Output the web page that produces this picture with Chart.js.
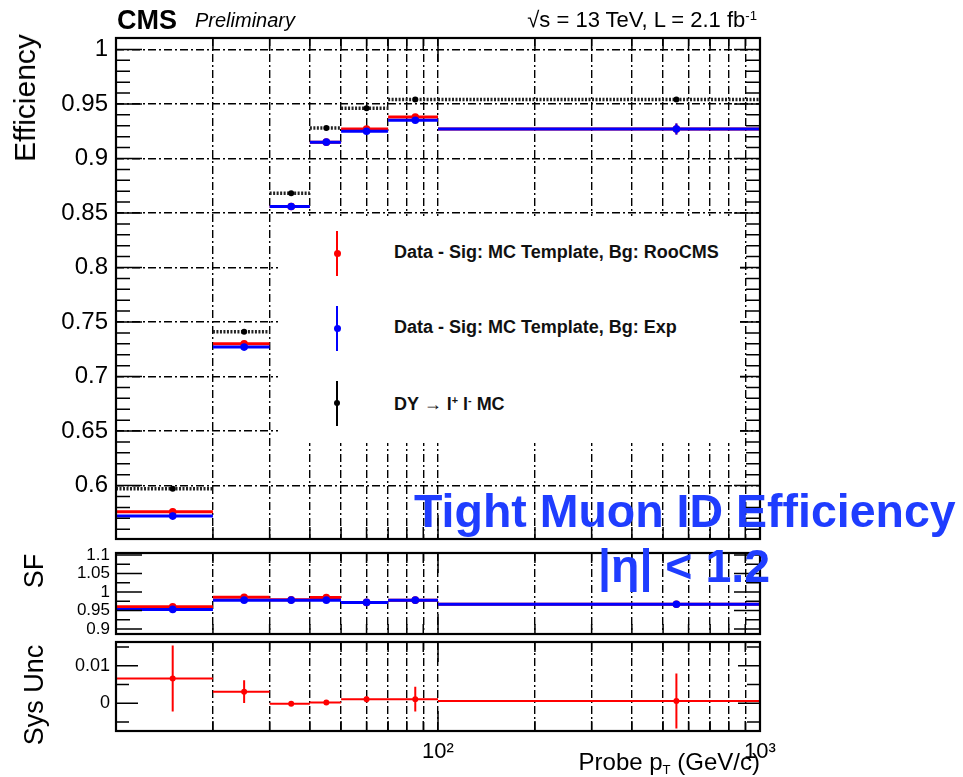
<!DOCTYPE html>
<html>
<head>
<meta charset="utf-8">
<script src="https://cdn.jsdelivr.net/npm/chart.js@4.4.0/dist/chart.umd.min.js"></script>
<style>
  body { margin: 0; background: #fff; }
  #wrap { position: relative; width: 963px; height: 777px; overflow: hidden; font-family: "Liberation Sans", Arial, sans-serif; }
  canvas { position: absolute; left: 0; top: 0; }
  .txt { position: absolute; white-space: nowrap; line-height: 1; color: #000; }
  .rot { position: absolute; white-space: nowrap; line-height: 1; transform: translate(-50%, -50%) rotate(-90deg); }
  .bar { position: absolute; width: 2px; }
  .dot { position: absolute; width: 7px; height: 7px; border-radius: 50%; }
  sup { font-size: 60%; vertical-align: 0; position: relative; top: -0.55em; }
  sub { font-size: 55%; vertical-align: 0; position: relative; top: 0.3em; }
</style>
</head>
<body>
<div id="wrap">
  <canvas id="eff" width="963" height="777"></canvas>
  <canvas id="sf" width="963" height="777"></canvas>
  <canvas id="sys" width="963" height="777"></canvas>

  <div class="txt" style="left:117px; top:7px; font-size:27px; font-weight:bold;">CMS</div>
  <div class="txt" style="left:195px; top:10px; font-size:20px; font-style:italic;">Preliminary</div>
  <div class="txt" style="right:206px; top:9px; font-size:22px;">√s = 13 TeV, L = 2.1 fb<sup>-1</sup></div>

  <div class="rot" style="left:25px; top:98px; font-size:30px;">Efficiency</div>
  <div class="rot" style="left:34px; top:571px; font-size:27px;">SF</div>
  <div class="rot" style="left:34px; top:695px; font-size:27px;">Sys Unc</div>

  <div id="legend" style="position:absolute; left:278px; top:216px; width:462px; height:227px; background:#fff;"></div>
  <div class="bar" style="left:336px; top:231px; height:45px; background:#ff0000;"></div>
  <div class="dot" style="left:333.5px; top:249.5px; background:#ff0000;"></div>
  <div class="txt" style="left:394px; top:243px; font-size:18px; font-weight:bold; color:#111;">Data - Sig: MC Template, Bg: RooCMS</div>
  <div class="bar" style="left:336px; top:306px; height:45px; background:#0000ff;"></div>
  <div class="dot" style="left:333.5px; top:324.5px; background:#0000ff;"></div>
  <div class="txt" style="left:394px; top:318px; font-size:18px; font-weight:bold; color:#111;">Data - Sig: MC Template, Bg: Exp</div>
  <div class="bar" style="left:336px; top:381px; height:45px; background:#000;"></div>
  <div class="dot" style="left:334px; top:400px; width:6px; height:6px; background:#000;"></div>
  <div class="txt" style="left:394px; top:395px; font-size:18px; font-weight:bold; color:#111;">DY → l<sup>+</sup> l<sup>-</sup> MC</div>

  <div class="txt" style="left:414px; top:488px; font-size:46.5px; font-weight:bold; color:#1f3dff;">Tight Muon ID Efficiency</div>
  <div class="txt" style="left:598px; top:543px; font-size:46.5px; font-weight:bold; color:#1f3dff;">|η| &lt; 1.2</div>

  <div class="txt" style="right:203px; top:750px; font-size:24px;">Probe p<sub>T</sub> (GeV/c)</div>
</div>
<script>
// pT bins (GeV/c) and bin centres
const binEdges = [10, 20, 30, 40, 50, 70, 100, 1000];
const binCenters = [15, 25, 35, 45, 60, 85, 550];

// efficiency
const effRooCMS = [0.576, 0.730, 0.856, 0.915, 0.927, 0.938, 0.927];
const effRooCMSErr = [0.003, 0.002, 0.0015, 0.0015, 0.0015, 0.002, 0.005];
const effExp = [0.572, 0.727, 0.856, 0.915, 0.925, 0.935, 0.927];
const effExpErr = [0.003, 0.002, 0.0015, 0.0015, 0.0015, 0.002, 0.005];
const effDY = [0.597, 0.741, 0.868, 0.928, 0.946, 0.954, 0.954];

// scale factors
const sfRooCMS = [0.960, 0.986, 0.979, 0.985, 0.972, 0.978, 0.967];
const sfExp = [0.953, 0.978, 0.978, 0.978, 0.972, 0.978, 0.967];

// systematic uncertainty
const sysUnc = [0.0066, 0.0031, -0.0001, 0.0002, 0.0011, 0.0011, 0.0006];
const sysUncErr = [0.0088, 0.0030, 0.0004, 0.0004, 0.0008, 0.0033, 0.0073];

// axis ticks
const xTickValues = [10, 20, 30, 40, 50, 60, 70, 80, 90, 100, 200, 300, 400, 500, 600, 700, 800, 900, 1000];
const effMajor = [0.6, 0.65, 0.7, 0.75, 0.8, 0.85, 0.9, 0.95, 1.0];
const sfMajor = [0.9, 0.95, 1.0, 1.05, 1.1];
const sysMajor = [0, 0.01];

const RED = "#ff0000";
const BLUE = "#0000ff";
const GRID_DASH = [8, 3, 2, 3];

function minorTicks(lo, hi, step) {
  const out = [];
  for (let v = lo; v <= hi + 1e-9; v += step) out.push(+v.toFixed(4));
  return out;
}

function stepData(vals) {
  const pts = [];
  vals.forEach((v, i) => {
    pts.push({ x: binEdges[i], y: v }, { x: binEdges[i + 1], y: v }, { x: binEdges[i + 1], y: null });
  });
  return pts;
}

function errData(vals, errs) {
  const pts = [];
  vals.forEach((v, i) => {
    pts.push({ x: binCenters[i], y: v - errs[i] }, { x: binCenters[i], y: v + errs[i] }, { x: binCenters[i], y: null });
  });
  return pts;
}

function pointData(vals) {
  return vals.map((v, i) => ({ x: binCenters[i], y: v }));
}

function steps(vals, color, width, extra) {
  return Object.assign({ data: stepData(vals), borderColor: color, borderWidth: width, pointRadius: 0, spanGaps: false }, extra || {});
}
function errors(vals, errs, color, width) {
  return { data: errData(vals, errs), borderColor: color, borderWidth: width, pointRadius: 0, spanGaps: false };
}
function points(vals, color, r) {
  return { data: pointData(vals), showLine: false, pointRadius: r, pointBackgroundColor: color, pointBorderWidth: 0 };
}

// ROOT style frame with inward ticks on all sides
const rootFrame = {
  id: "rootFrame",
  afterDraw(chart, args, o) {
    const ctx = chart.ctx, a = chart.chartArea;
    const xs = chart.scales.x, ys = chart.scales.y;
    ctx.save();
    ctx.strokeStyle = "#000";
    ctx.lineWidth = 1.5;
    ctx.beginPath();
    const yTick = (v, len) => {
      const p = ys.getPixelForValue(v);
      ctx.moveTo(a.left, p); ctx.lineTo(a.left + len, p);
      ctx.moveTo(a.right, p); ctx.lineTo(a.right - len, p);
    };
    o.yMinor.forEach(v => yTick(v, o.minorLen));
    o.yMajor.forEach(v => yTick(v, o.majorLen));
    xTickValues.forEach(v => {
      const p = xs.getPixelForValue(v);
      const len = (v === 100 || v === 1000) ? o.xLen * 2 : o.xLen;
      ctx.moveTo(p, a.top); ctx.lineTo(p, a.top + len);
      ctx.moveTo(p, a.bottom); ctx.lineTo(p, a.bottom - len);
    });
    ctx.stroke();
    ctx.lineWidth = 2.2;
    ctx.strokeRect(a.left, a.top, a.right - a.left, a.bottom - a.top);
    ctx.restore();
  }
};

function makePanel(id, cfg) {
  return new Chart(document.getElementById(id), {
    type: "line",
    data: { datasets: cfg.datasets },
    plugins: [rootFrame],
    options: {
      responsive: false,
      animation: false,
      devicePixelRatio: 1,
      layout: { padding: { left: 0, right: 203, top: cfg.top, bottom: cfg.bottom } },
      plugins: {
        legend: { display: false },
        tooltip: { enabled: false },
        rootFrame: { yMajor: cfg.yMajor, yMinor: cfg.yMinor, majorLen: cfg.majorLen, minorLen: cfg.minorLen, xLen: cfg.xLen }
      },
      scales: {
        x: {
          type: "logarithmic",
          min: 10,
          max: 1000,
          afterBuildTicks: s => { s.ticks = xTickValues.map(v => ({ value: v })); },
          afterFit: s => { s.height = cfg.xHeight; },
          grid: { color: "#000", lineWidth: 1.4, drawTicks: false },
          border: { display: false, dash: GRID_DASH },
          ticks: {
            display: cfg.showX,
            autoSkip: false,
            maxRotation: 0,
            padding: 8,
            color: "#000",
            font: { family: "Liberation Sans", size: 22 },
            callback: v => (v === 100 ? "10²" : v === 1000 ? "10³" : "")
          }
        },
        y: {
          min: cfg.yMin,
          max: cfg.yMax,
          afterBuildTicks: s => { s.ticks = cfg.yMajor.map(v => ({ value: v })); },
          afterFit: s => { s.width = 116; },
          grid: { display: cfg.yGrid, color: "#000", lineWidth: 1.4, drawTicks: false },
          border: { display: false, dash: GRID_DASH },
          ticks: {
            autoSkip: false,
            padding: cfg.yPad,
            color: "#000",
            font: { family: "Liberation Sans", size: cfg.yFont },
            callback: v => String(+v.toFixed(3))
          }
        }
      }
    }
  });
}

const eff = makePanel("eff", {
  top: 38, bottom: 777 - 539, xHeight: 0, showX: false,
  yMin: 0.551, yMax: 1.0105, yMajor: effMajor, yMinor: minorTicks(0.56, 1.0, 0.01),
  yGrid: true, yFont: 24, yPad: 8, majorLen: 26, minorLen: 14, xLen: 12,
  datasets: [
    points(effExp, BLUE, 3.8),
    errors(effExp, effExpErr, BLUE, 2),
    steps(effExp, BLUE, 3),
    points(effRooCMS, RED, 3.8),
    errors(effRooCMS, effRooCMSErr, RED, 2),
    steps(effRooCMS, RED, 3),
    points(effDY, "#000", 3),
    steps(effDY, "#222", 3.5, { borderDash: [2, 1.5] })
  ]
});

const sf = makePanel("sf", {
  top: 553, bottom: 777 - 634, xHeight: 0, showX: false,
  yMin: 0.8865, yMax: 1.1055, yMajor: sfMajor, yMinor: [0.925, 0.975, 1.025, 1.075],
  yGrid: false, yFont: 17, yPad: 6, majorLen: 26, minorLen: 14, xLen: 10,
  datasets: [
    points(sfExp, BLUE, 3.8),
    steps(sfExp, BLUE, 3),
    points(sfRooCMS, RED, 3.8),
    steps(sfRooCMS, RED, 3)
  ]
});

const sys = makePanel("sys", {
  top: 642, bottom: 0, xHeight: 777 - 731, showX: true,
  yMin: -0.00737, yMax: 0.0163, yMajor: sysMajor, yMinor: [-0.005, 0.005, 0.015],
  yGrid: false, yFont: 18, yPad: 6, majorLen: 22, minorLen: 13, xLen: 10,
  datasets: [
    points(sysUnc, RED, 3),
    errors(sysUnc, sysUncErr, RED, 2),
    steps(sysUnc, RED, 2)
  ]
});
</script>
</body>
</html>
